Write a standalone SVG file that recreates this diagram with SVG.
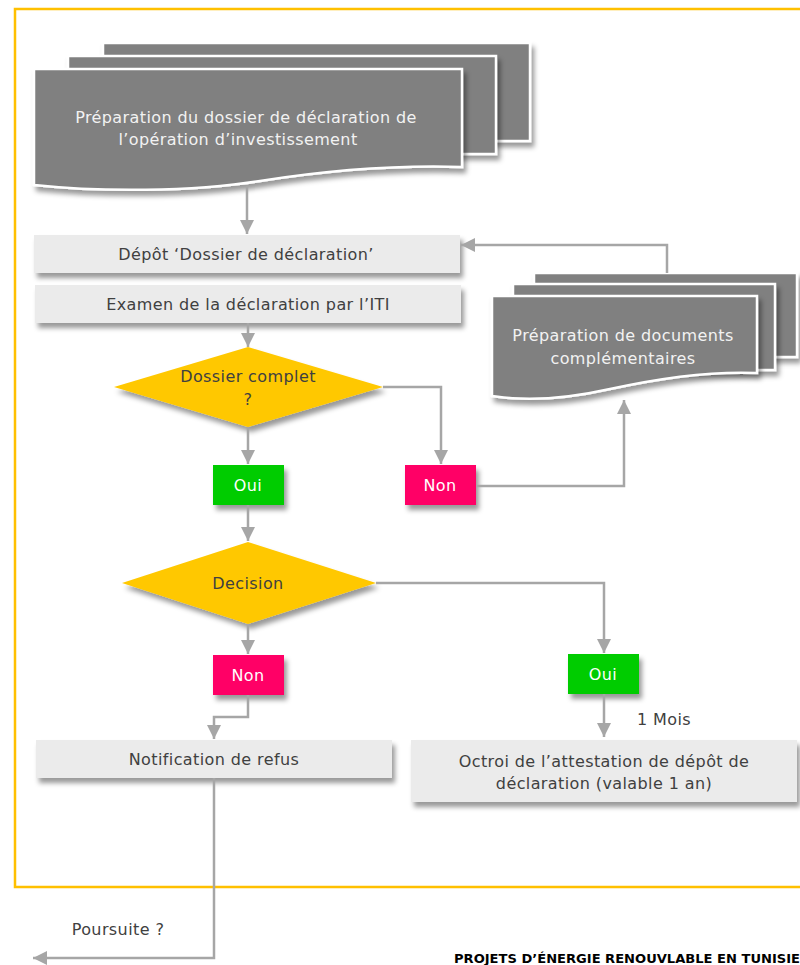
<svg xmlns="http://www.w3.org/2000/svg" width="800" height="965" viewBox="0 0 800 965">
<defs>
<filter id="sh" x="-10%" y="-10%" width="130%" height="140%">
<feDropShadow dx="3" dy="5" stdDeviation="2.5" flood-color="#000" flood-opacity="0.4"/>
</filter>
<marker id="ah" markerUnits="userSpaceOnUse" markerWidth="15" markerHeight="15" refX="14" refY="7" orient="auto">
<path d="M0,0 L14,7 L0,14 Z" fill="#A6A6A6"/>
</marker>
<style>
text{font-family:"DejaVu Sans","Liberation Sans",sans-serif;font-size:16px;letter-spacing:0.4px;text-anchor:middle}
.doc{fill:#808080;stroke:#FFFFFF;stroke-width:2.5;filter:url(#sh)}
.dt{fill:#F2F2F2}
.box{fill:#EBEBEB;filter:url(#sh)}
.bt{fill:#404040}
.dia{fill:#FFC800;filter:url(#sh)}
.oui{fill:#00CC00;filter:url(#sh)}
.non{fill:#FF0066;filter:url(#sh)}
.wt{fill:#FFFFFF}
.c{fill:none;stroke:#A6A6A6;stroke-width:2.5;marker-end:url(#ah)}
</style>
</defs>
<rect x="15" y="9" width="800" height="878" fill="none" stroke="#FFC000" stroke-width="2.5"/>

<g id="doc1">
<rect class="doc" x="103" y="43" width="427" height="98"/>
<rect class="doc" x="68" y="56" width="428" height="98"/>
<path class="doc" d="M34,69 H462 V167 C400,165 330,170 260,181 C190,192 100,192 34,185 Z"/>
<text class="dt" x="246" y="123">Préparation du dossier de déclaration de</text>
<text class="dt" x="238" y="145">l’opération d’investissement</text>
</g>

<g id="depot">
<rect class="box" x="34" y="235" width="426" height="38"/>
<text class="bt" x="246" y="260">Dépôt ‘Dossier de déclaration’</text>
</g>

<g id="examen">
<rect class="box" x="35" y="285" width="426" height="38"/>
<text class="bt" x="248" y="310">Examen de la déclaration par l’ITI</text>
</g>

<g id="doc2">
<rect class="doc" x="534" y="273" width="263" height="84"/>
<rect class="doc" x="513" y="284" width="262" height="86"/>
<path class="doc" d="M492,296 H757 V373 C710,371 660,378 610,389 C570,398 530,402 492,396 Z"/>
<text class="dt" x="623" y="341">Préparation de documents</text>
<text class="dt" x="623" y="364">complémentaires</text>
</g>

<g id="dossier-complet">
<polygon class="dia" points="248,347 383,387 248,427 114,387"/>
<text class="bt" x="248" y="382">Dossier complet</text>
<text class="bt" x="248" y="405">?</text>
</g>

<g id="oui1">
<rect class="oui" x="213" y="465" width="71" height="40"/>
<text class="wt" x="248" y="491">Oui</text>
</g>

<g id="non1">
<rect class="non" x="405" y="465" width="71" height="40"/>
<text class="wt" x="440" y="491">Non</text>
</g>

<g id="decision">
<polygon class="dia" points="248,542 376,583 248,624 122,583"/>
<text class="bt" x="248" y="589">Decision</text>
</g>

<g id="non2">
<rect class="non" x="213" y="655" width="71" height="40"/>
<text class="wt" x="248" y="681">Non</text>
</g>

<g id="oui2">
<rect class="oui" x="568" y="654" width="71" height="40"/>
<text class="wt" x="603" y="680">Oui</text>
</g>

<g id="notification">
<rect class="box" x="36" y="740" width="356" height="38"/>
<text class="bt" x="214" y="765">Notification de refus</text>
</g>

<g id="octroi">
<rect class="box" x="411" y="740" width="386" height="62"/>
<text class="bt" x="604" y="767">Octroi de l’attestation de dépôt de</text>
<text class="bt" x="604" y="789">déclaration (valable 1 an)</text>
</g>

<g id="connectors">
<path class="c" d="M247,186 V234"/>
<path class="c" d="M248,323 V347"/>
<path class="c" d="M248,427 V464"/>
<path class="c" d="M383,387 H441 V464"/>
<path class="c" d="M476,486 H624 V400"/>
<path class="c" d="M667,273 V245 H461"/>
<path class="c" d="M248,505 V541"/>
<path class="c" d="M248,624 V654"/>
<path class="c" d="M376,583 H604 V653"/>
<path class="c" d="M248,695 V717 H214 V739"/>
<path class="c" d="M604,694 V737"/>
<path class="c" d="M214,778 V958 H33"/>
</g>

<text class="bt" x="664" y="725">1 Mois</text>
<text class="bt" x="118" y="935">Poursuite ?</text>
<text x="454" y="963" style="font-family:'DejaVu Sans',sans-serif;font-size:12px;font-weight:bold;letter-spacing:0;text-anchor:start;fill:#000" textLength="346" lengthAdjust="spacingAndGlyphs">PROJETS D’ÉNERGIE RENOUVLABLE EN TUNISIE</text>
</svg>
